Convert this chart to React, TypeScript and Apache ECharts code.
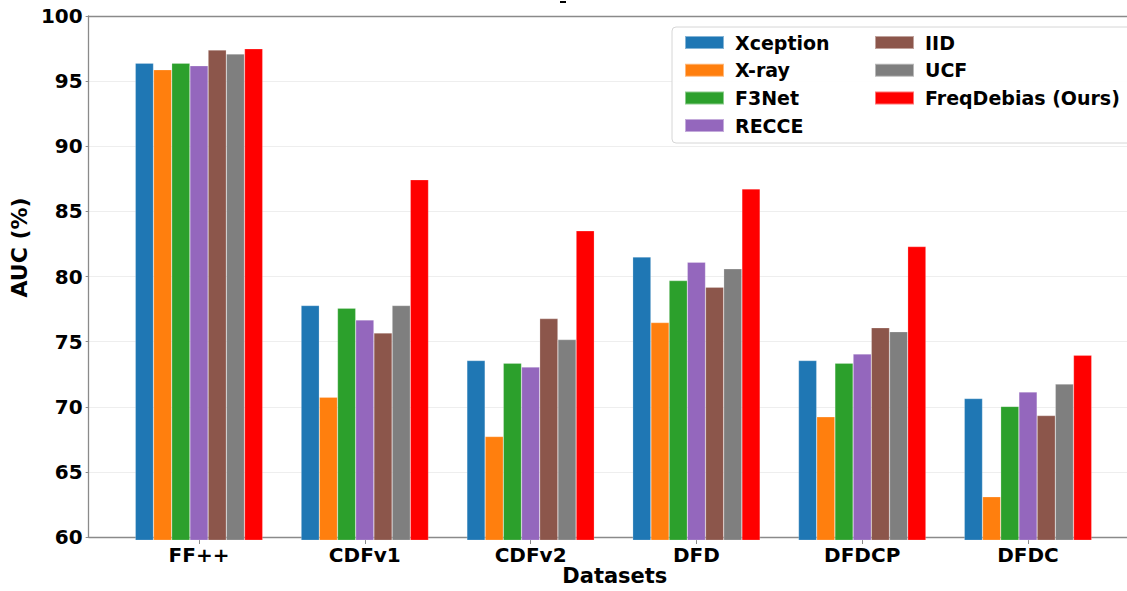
import React, { useEffect, useRef } from "react";
import * as echarts from "echarts";

const categories = ["FF++", "CDFv1", "CDFv2", "DFD", "DFDCP", "DFDC"];
const methods = ["Xception", "X-ray", "F3Net", "RECCE", "IID", "UCF", "FreqDebias (Ours)"];
const colors = ["#1f77b4", "#ff7f0e", "#2ca02c", "#9467bd", "#8c564b", "#7f7f7f", "#ff0000"];

const xception = [96.4, 77.9, 73.7, 81.6, 73.7, 70.8];
const xray = [95.9, 70.9, 67.9, 76.6, 69.4, 63.3];
const f3net = [96.4, 77.7, 73.5, 79.8, 73.5, 70.2];
const recce = [96.2, 76.8, 73.2, 81.2, 74.2, 71.3];
const iid = [97.4, 75.8, 76.9, 79.3, 76.2, 69.5];
const ucf = [97.1, 77.9, 75.3, 80.7, 75.9, 71.9];
const freqDebias = [97.5, 87.5, 83.6, 86.8, 82.4, 74.1];

const seriesValues = [xception, xray, f3net, recce, iid, ucf, freqDebias];

const yMin = 60;
const yMax = 100;
const yStep = 5;

const FONT = "DejaVu Sans";
const SPINE = "#8a8a8a";

export default function App() {
  const ref = useRef<HTMLDivElement>(null);

  useEffect(() => {
    if (!ref.current) return;
    const chart = echarts.init(ref.current, null, { renderer: "svg" });

    const series = methods.map((name, i) => ({
      name,
      type: "bar",
      xAxisIndex: 2,
      yAxisIndex: 1,
      data: seriesValues[i],
      barWidth: 18.2,
      barGap: "0%",
      itemStyle: {
        color: colors[i],
        borderColor: "rgba(255,255,255,0.45)",
        borderWidth: 0.5,
      },
      emphasis: { disabled: true },
    }));

    const legendCommon = {
      orient: "vertical",
      icon: "rect",
      itemWidth: 39,
      itemHeight: 13,
      itemGap: 8.7,
      z: 10,
      textStyle: {
        fontFamily: FONT,
        fontWeight: "bold",
        fontSize: 19,
        color: "#000",
        padding: [0, 0, 0, 6],
      },
      selectedMode: false,
    };

    chart.setOption({
      animation: false,
      grid: [
        { left: 87, right: 19, top: 16, bottom: 51 },
        { left: 116.1, right: 1160 - 1110.9, top: 16, bottom: 51 },
      ],
      xAxis: [
        {
          type: "value",
          gridIndex: 0,
          min: 0,
          max: 1,
          position: "bottom",
          axisLine: { show: true, onZero: false, lineStyle: { color: SPINE, width: 1.3 } },
          axisTick: { show: false },
          axisLabel: { show: false },
          splitLine: { show: false },
          name: "Datasets",
          nameLocation: "middle",
          nameGap: 28,
          nameTextStyle: { fontFamily: FONT, fontWeight: "bold", fontSize: 21, color: "#000" },
        },
        {
          type: "value",
          gridIndex: 0,
          min: 0,
          max: 1,
          position: "top",
          axisLine: { show: true, onZero: false, lineStyle: { color: SPINE, width: 1.3 } },
          axisTick: { show: false },
          axisLabel: { show: false },
          splitLine: { show: false },
        },
        {
          type: "category",
          gridIndex: 1,
          data: categories,
          axisLine: { show: false },
          axisTick: { show: true, alignWithLabel: true, length: 4, lineStyle: { color: SPINE } },
          axisLabel: {
            fontFamily: FONT,
            fontWeight: "bold",
            fontSize: 20,
            color: "#000",
            margin: 5,
          },
          splitLine: { show: false },
        },
      ],
      yAxis: [
        {
          type: "value",
          gridIndex: 0,
          min: yMin,
          max: yMax,
          interval: yStep,
          axisLine: { show: true, lineStyle: { color: SPINE, width: 1.3 } },
          axisTick: { show: true, length: 3, lineStyle: { color: SPINE } },
          axisLabel: {
            fontFamily: FONT,
            fontWeight: "bold",
            fontSize: 20,
            color: "#000",
            margin: 6,
          },
          splitLine: { show: true, lineStyle: { color: "#eeeeee", width: 1 } },
          name: "AUC (%)",
          nameLocation: "middle",
          nameGap: 51,
          nameTextStyle: {
            fontFamily: FONT,
            fontWeight: "bold",
            fontSize: 22,
            color: "#000",
            padding: [0, 0, 0, 58],
          },
        },
        {
          type: "value",
          gridIndex: 1,
          min: yMin,
          max: yMax,
          interval: yStep,
          show: false,
          splitLine: { show: false },
        },
      ],
      legend: [
        { ...legendCommon, left: 679, top: 28, data: methods.slice(0, 4) },
        { ...legendCommon, left: 869, top: 28, data: methods.slice(4) },
      ],
      graphic: [
        {
          type: "rect",
          z: 5,
          shape: { x: 672, y: 27, width: 480, height: 116, r: 4 },
          style: { fill: "rgba(255,255,255,0.92)", stroke: "#d6d6d6", lineWidth: 1 },
        },
        {
          type: "rect",
          z: 5,
          shape: { x: 560, y: 1, width: 6, height: 2 },
          style: { fill: "#000" },
        },
      ],
      series,
    });

    return () => chart.dispose();
  }, []);

  return (
    <div
      style={{
        position: "absolute",
        left: 0,
        top: 0,
        width: 1127,
        height: 591,
        overflow: "hidden",
        background: "#fff",
      }}
    >
      <div ref={ref} style={{ width: 1160, height: 591 }} />
    </div>
  );
}
